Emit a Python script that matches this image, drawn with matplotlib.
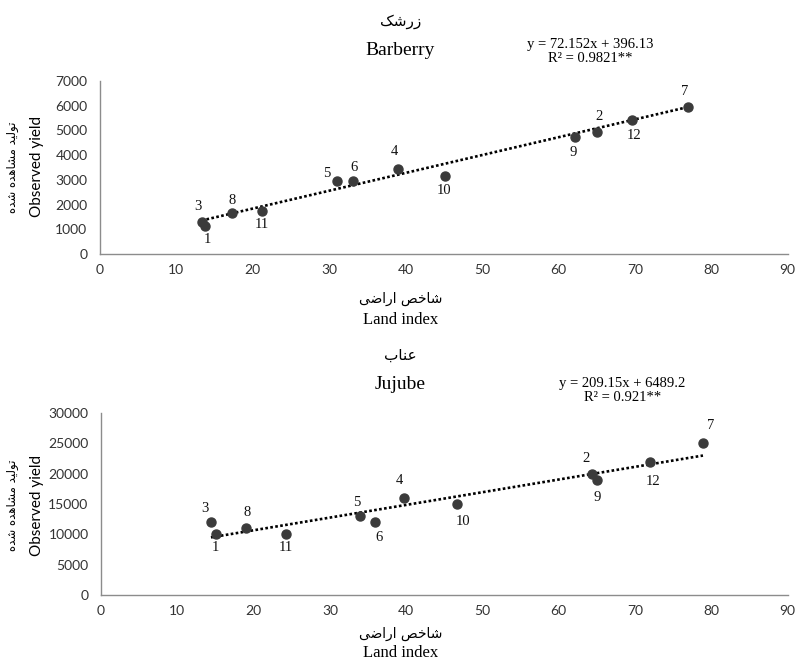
import matplotlib
matplotlib.use("Agg")
import matplotlib.pyplot as plt
import numpy as np

# ---------------- data ----------------
ids = ["1", "2", "3", "4", "5", "6", "7", "8", "9", "10", "11", "12"]

barberry_x = [13.7, 65.1, 13.3, 39.0, 31.0, 33.1, 76.9, 17.3, 62.2, 45.1, 21.2, 69.6]
barberry_y = [1150, 4950, 1300, 3450, 2970, 2970, 5940, 1660, 4740, 3160, 1740, 5420]
barberry_slope, barberry_icpt = 72.152, 396.13

jujube_x = [15.0, 64.3, 14.4, 39.7, 33.9, 35.9, 78.9, 19.0, 65.0, 46.7, 24.2, 71.9]
jujube_y = [10000, 20000, 12000, 16000, 13000, 12000, 25000, 11000, 19000, 15000, 10000, 22000]
jujube_slope, jujube_icpt = 209.15, 6489.2

x_ticks = [0, 10, 20, 30, 40, 50, 60, 70, 80, 90]
barberry_yticks = [0, 1000, 2000, 3000, 4000, 5000, 6000, 7000]
jujube_yticks = [0, 5000, 10000, 15000, 20000, 25000, 30000]

# Persian texts (presentation forms, visual order)
fa_barberry = "\uFB8F\uFEB7\uFEAD\uFEAF"
fa_jujube = "\uFE8F\uFE8E\uFEE8\uFECB"
fa_land = "\uFBFD\uFEBF\uFE8D\uFEAD\uFE8D \uFEBA\uFEA7\uFE8E\uFEB7"
fa_yield = "\uFEE9\uFEAA\uFEB7 \uFEE9\uFEAA\uFEEB\uFE8E\uFEB8\uFEE3 \uFEAA\uFBFF\uFEDF\uFEEE\uFE97"

# label offsets in pixels (dx, dy screen-down)
barberry_off = [(3, 14), (2, -15), (-4, -15), (-4, -17), (-10, -7), (1, -13), (-3, -16),
                (0, -12), (-2, 16), (-1, 15), (0, 13), (2, 15)]
jujube_off = [(0, 13), (-6, -15), (-6, -14), (-5, -17), (-3, -14), (4, 15), (8, -18),
              (1, -16), (0, 18), (6, 17), (0, 13), (3, 20)]

SERIF = ["Liberation Serif", "DejaVu Serif"]
SANS = ["Lato", "DejaVu Sans"]
FA = ["DejaVu Sans"]

fig = plt.figure(figsize=(7.96, 6.62), dpi=100)


def panel(rect, xs, ys, slope, icpt, yticks, offs, title_fa, title_en, eq, r2, eq_x, title_y, eq_dy):
    ax = fig.add_axes(rect)
    ax.set_xlim(0, 90)
    ax.set_ylim(yticks[0], yticks[-1])
    ax.set_xticks(x_ticks)
    ax.set_yticks(yticks)
    ax.tick_params(length=0, labelsize=10, colors="#333333", pad=7)
    ax.tick_params(axis="y", pad=9)
    for lbl in ax.get_xticklabels() + ax.get_yticklabels():
        lbl.set_family(SANS)
    for s in ["top", "right"]:
        ax.spines[s].set_visible(False)
    for s in ["left", "bottom"]:
        ax.spines[s].set_color("#8c8c8c")
        ax.spines[s].set_linewidth(1.0)
    ax.patch.set_alpha(0)
    xs = np.array(xs)
    tx = np.array([xs.min(), xs.max()])
    ax.plot(tx, slope * tx + icpt, color="black", lw=1.9, linestyle=(0, (1.0, 0.9)),
            dash_capstyle="butt", zorder=2)
    ax.plot(xs, ys, "o", color="#3b3b3b", ms=6.5, zorder=3)
    for i, lab in enumerate(ids):
        dx, dy = offs[i]
        ax.annotate(lab, (xs[i], ys[i]), xytext=(dx, -dy), textcoords="offset pixels",
                    ha="center", va="center", fontsize=10.5, family=SERIF, color="#111111")
    # titles
    fig.text(0.503, title_y, title_fa, ha="center", va="center", fontsize=11, family=FA)
    fig.text(0.503, title_y - 0.044, title_en, ha="center", va="center", fontsize=14, family=SERIF)
    fig.text(eq_x, title_y - eq_dy, eq, ha="center", va="center", fontsize=10.5, family=SERIF)
    fig.text(eq_x, title_y - eq_dy - 0.022, r2, ha="center", va="center", fontsize=10.5, family=SERIF)
    return ax


ax1 = panel([0.1256, 0.6163, 0.864, 0.2613], barberry_x, barberry_y, barberry_slope, barberry_icpt,
            barberry_yticks, barberry_off, fa_barberry, "Barberry",
            "y = 72.152x + 396.13", "R\u00b2 = 0.9821**", 0.741, 0.968, 0.035)
ax2 = panel([0.127, 0.1012, 0.8625, 0.2749], jujube_x, jujube_y, jujube_slope, jujube_icpt,
            jujube_yticks, jujube_off, fa_jujube, "Jujube",
            "y = 209.15x + 6489.2", "R\u00b2 = 0.921**", 0.782, 0.463, 0.042)

# axis titles
for yc_fa, yc_en in [(0.549, 0.517), (0.042, 0.014)]:
    fig.text(0.503, yc_fa, fa_land, ha="center", va="center", fontsize=10, family=FA)
    fig.text(0.503, yc_en, "Land index", ha="center", va="center", fontsize=12, family=SERIF)
for yc in [0.748, 0.237]:
    fig.text(0.016, yc, fa_yield, ha="center", va="center", rotation=90, fontsize=8.5, family=FA)
    fig.text(0.046, yc, "Observed yield", ha="center", va="center", rotation=90, fontsize=11, family=SANS)

fig.savefig("out.png", dpi=100)
